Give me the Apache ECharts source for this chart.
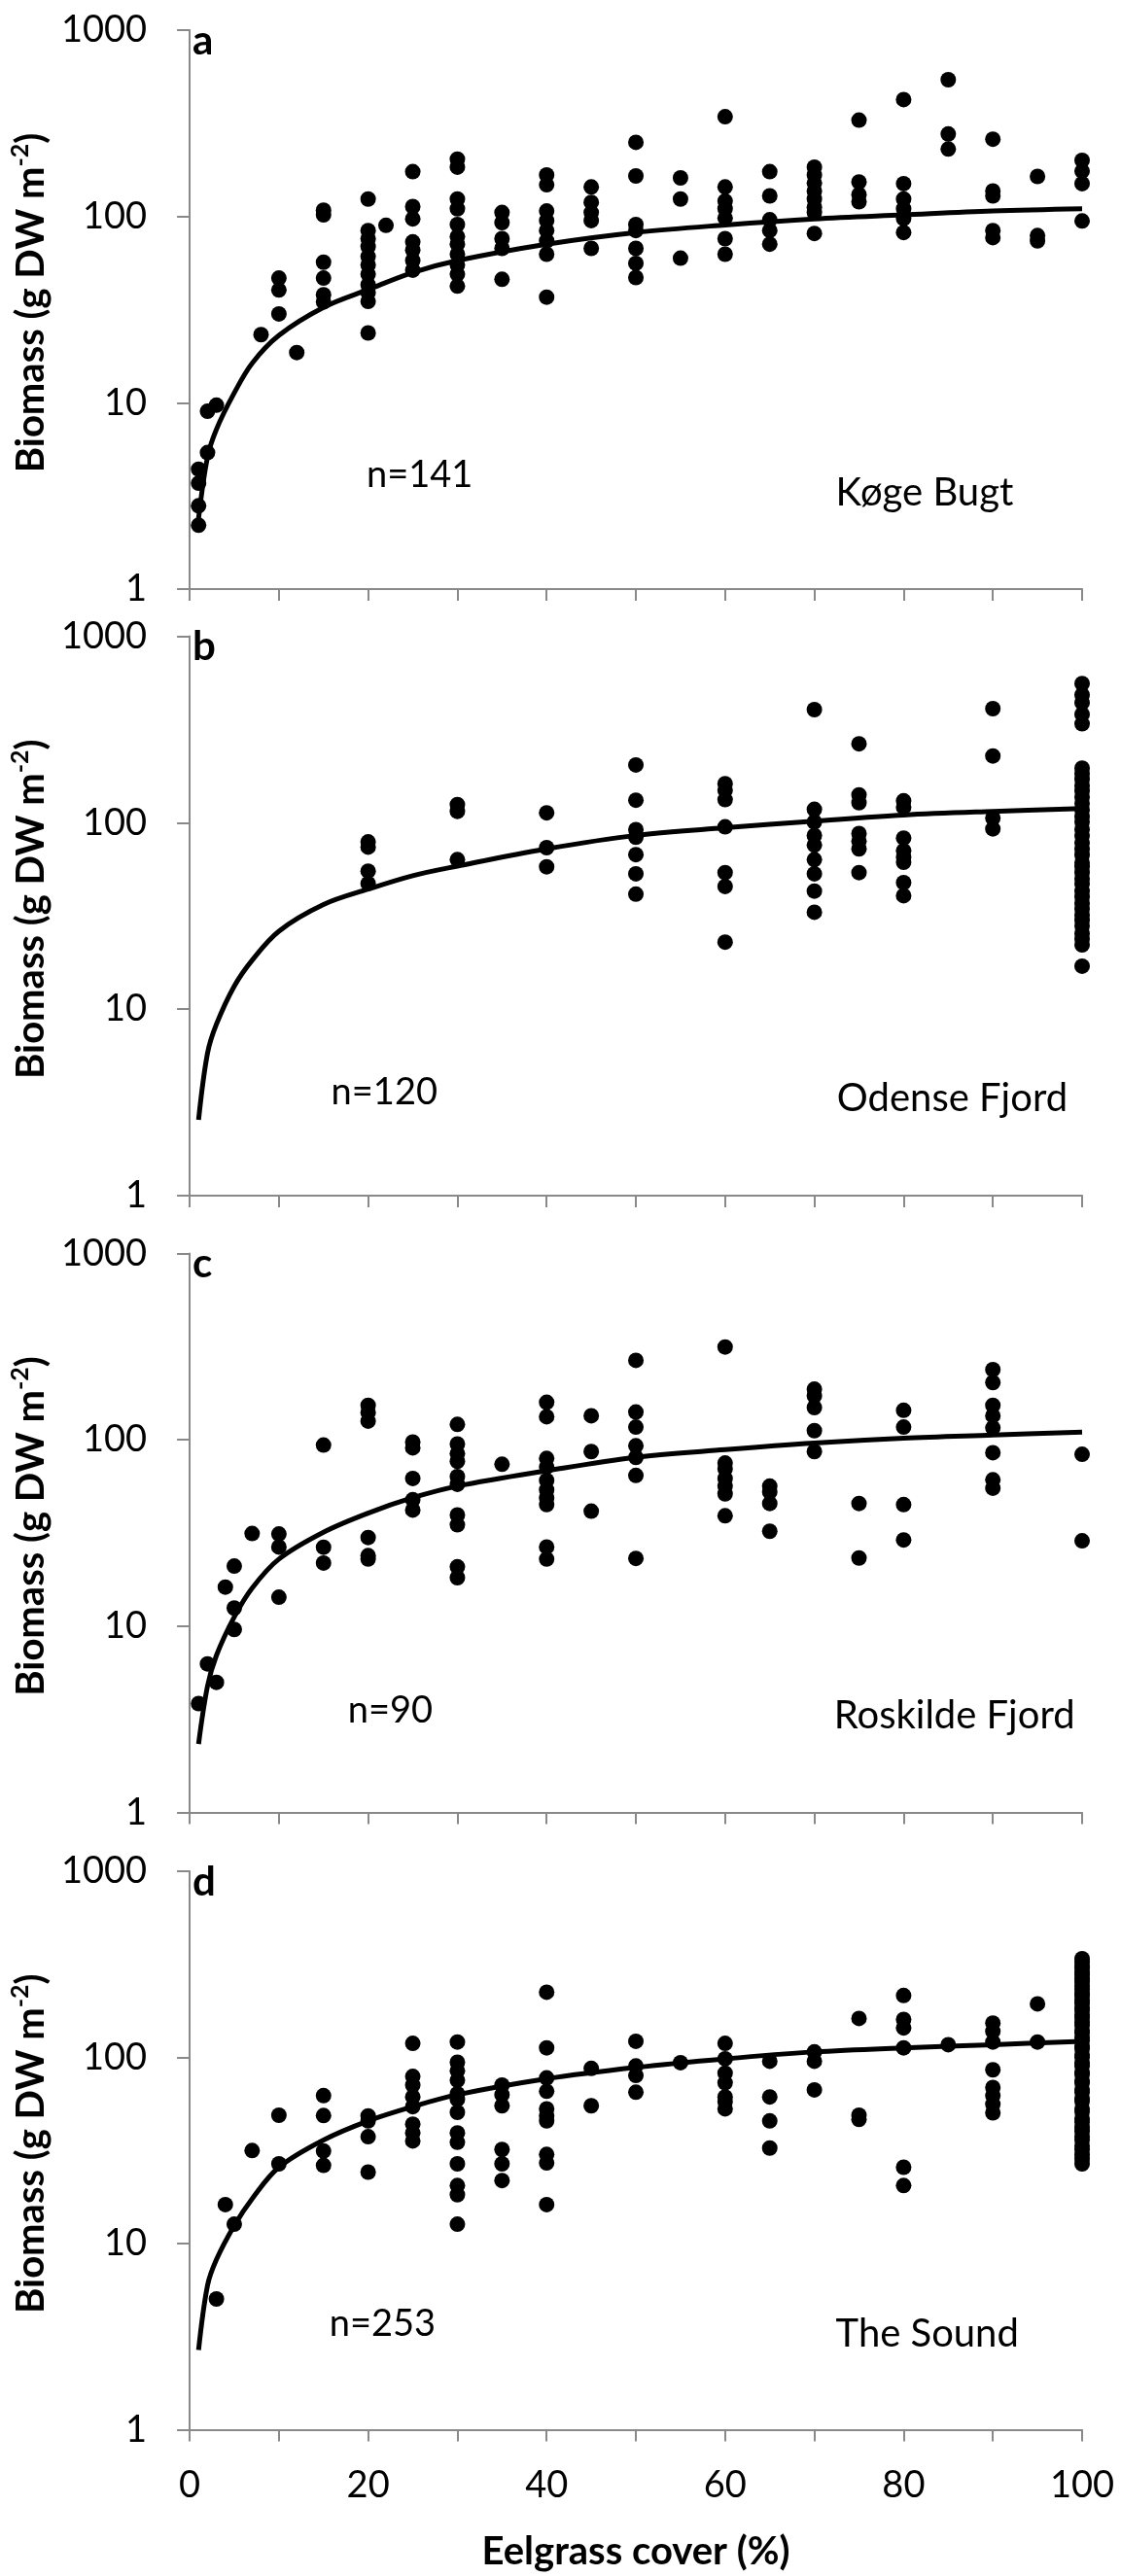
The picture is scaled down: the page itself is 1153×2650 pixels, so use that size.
<!DOCTYPE html>
<html><head><meta charset="utf-8">
<script src="https://cdn.jsdelivr.net/npm/echarts@6/dist/echarts.min.js"></script>
<style>html,body{margin:0;padding:0;background:#fff}#chart{width:1153px;height:2650px}</style>
</head><body><div id="chart"></div>
<script>
// ---------- DATA ----------
const panelLetters = ['a', 'b', 'c', 'd'];
const siteNames = ['Køge Bugt', 'Odense Fjord', 'Roskilde Fjord', 'The Sound'];
const sampleSizes = ['n=141', 'n=120', 'n=90', 'n=253'];
const yTickLabels = ['1', '10', '100', '1000'];
const xTickLabels = ['0', '20', '40', '60', '80', '100'];
const xTitle = 'Eelgrass cover (%)';

// Panel a – Køge Bugt
const coverA = [1, 2, 3, 8, 10, 12, 15, 20, 22, 25, 30, 35, 40, 45, 50, 55, 60, 65, 70, 75, 80, 85, 90, 95, 100];
const biomassA = [
  [4.4, 3.7, 2.8, 2.2], [5.4, 9.0], [9.7], [23.2], [46.7, 40.3, 30.0], [18.6],
  [108, 102, 56.8, 46.7, 38, 34.8],
  [124, 84, 76, 69, 61, 55, 49, 43, 39, 35, 23.7], [89.6],
  [174, 113, 97, 73, 66, 58, 51.5],
  [203, 184, 124, 110, 90.5, 78, 71, 62.7, 55, 49, 42.3],
  [105, 92.7, 76, 67.4, 46],
  [167, 148, 107, 95, 84, 74, 62.7, 36.9],
  [144, 119, 105, 95, 67.4],
  [250, 165, 90.5, 84, 67.4, 56, 47],
  [161, 124, 59.7],
  [343, 144, 121, 110, 98, 76, 62.7],
  [174, 129, 96, 84, 71],
  [184, 167, 151, 137, 124, 112, 105, 81],
  [329, 153, 131, 120],
  [424, 150, 124, 110, 97.5, 82],
  [542, 277, 230],
  [260, 137, 129, 84, 77],
  [164, 79, 74],
  [200, 175, 150, 94.6]
];

// Panel b – Odense Fjord
const coverB = [20, 30, 40, 50, 60, 70, 75, 80, 90, 100];
const biomassB = [
  [78.9, 74, 55, 47.2],
  [125, 115, 63.4],
  [113, 73.5, 58],
  [204, 132, 91.8, 83.5, 67.4, 53.2, 41.4],
  [162, 149, 133, 95, 54, 45.5, 22.9],
  [404, 118, 101, 85.5, 75.9, 63.4, 53.2, 43, 33.1],
  [265, 141, 128, 87.5, 79.6, 72.4, 54],
  [131, 121, 82.7, 70.7, 65.3, 61.3, 47.7, 40.6],
  [409, 228, 106, 92.7],
  [557, 484, 440, 381, 339, 196, 183, 171, 158, 148, 137, 127, 117, 108, 101, 92, 85, 78, 72, 67,
   61, 58, 54, 50, 47, 43, 40, 37, 34.5, 32, 30, 28, 25.5, 23.8, 22.1, 17]
];

// Panel c – Roskilde Fjord
const coverC = [1, 2, 3, 4, 5, 7, 10, 15, 20, 25, 30, 35, 40, 45, 50, 60, 65, 70, 75, 80, 90, 100];
const biomassC = [
  [3.84], [6.27], [4.99], [16.2], [21, 12.5, 9.6], [31.4],
  [31.2, 26.6, 14.3],
  [93.7, 26.5, 21.8],
  [153, 140, 126, 29.9, 23.9, 22.9],
  [97.3, 90.6, 62, 47.7, 42],
  [121, 95, 84.4, 76.7, 63.5, 57.7, 39.5, 35, 20.8, 18.2],
  [73.9],
  [159, 133, 79.4, 71.5, 60.5, 53.8, 48.8, 44.9, 26.6, 22.9],
  [134.6, 86.5, 41.4],
  [267, 141, 117, 92.9, 80.5, 64.4, 23.1],
  [315, 75, 69.8, 62, 56.4, 51.3, 39.1],
  [56.4, 52.5, 45.5, 32.3],
  [187, 172, 149, 112, 86.5],
  [45.5, 23.2],
  [144, 117, 44.9, 29],
  [238, 203, 153, 134.6, 116, 85.3, 61, 55],
  [83.6, 28.7]
];

// Panel d – The Sound
const coverD = [3, 4, 5, 7, 10, 15, 20, 25, 30, 35, 40, 45, 50, 55, 60, 65, 70, 75, 80, 85, 90, 95, 100];
const biomassD = [
  [5.04], [16.2], [12.7], [31.6], [48.9, 26.8],
  [62.3, 48.7, 31.4, 26.3],
  [48.5, 45.6, 37.5, 24.2],
  [119, 79, 71, 61.3, 54.4, 43.8, 39.3, 35.6],
  [121, 94.2, 84.7, 75.3, 63.8, 59.5, 50.7, 39.3, 35, 26.8, 20.5, 18.3, 12.7],
  [71, 63, 55, 32, 26.8, 21.8],
  [224, 112.5, 77.6, 65.8, 52.9, 48.4, 45.6, 30.1, 27.1, 16.2],
  [87.3, 55],
  [122, 89.9, 80, 65],
  [93.7],
  [119, 98.3, 82.3, 73.1, 61.3, 57.8, 52.9],
  [95.4, 61.3, 45.6, 32.6],
  [107, 95.4, 66.9],
  [162, 48.9, 46.4],
  [215, 160, 144, 112.5, 25.7, 20.5],
  [117],
  [153, 138, 121, 85.8, 68.9, 62.3, 56.1, 50.4],
  [194, 121],
  [339, 326, 311, 301, 287, 277, 264, 255, 242, 233, 221, 213, 202, 195, 185, 179, 169, 163, 154, 149,
   140, 135, 127, 123, 115, 111, 103, 100, 93, 90, 83, 81, 75, 73, 67, 65, 60, 58, 53, 51,
   47, 45, 42, 40, 37.5, 36, 33.5, 32, 30, 28.5, 26.8]
];

// Fitted curves
const curveCover = [1, 2, 3, 5, 7, 10, 15, 20, 25, 30, 40, 50, 60, 70, 80, 90, 100];
const curveA = [2.4, 5.1, 7.2, 11.3, 16.3, 23, 32.5, 40.5, 50, 58, 71, 82, 90, 97, 102, 107, 110];
const curveB = [2.55, 5.8, 8.3, 13.3, 18.3, 26.2, 36.4, 44, 52, 58.5, 72.4, 85.5, 94, 102, 110, 115, 119];
const curveC = [2.33, 4.76, 6.96, 11.2, 16, 22.9, 31.9, 40.4, 48.9, 56.4, 68.2, 80.5, 88.5, 96, 102, 106, 110];
const curveD = [2.68, 5.95, 8.2, 12.5, 17.4, 25.7, 36, 45.6, 54.4, 63, 76.7, 88.3, 98.3, 107, 112.5, 117, 122];

// ---------- LAYOUT / STYLE ----------
const GRID_LEFT = 179, GRID_WIDTH = 934;
const panelTop = [31, 654.5, 1289.5, 1925];
const panelHeight = [575, 575.5, 575, 574.5];
const nLabelX = [377, 340.6, 357.8, 338.7];
const nLabelBaseOffset = [470, 481.5, 482.5, 478];
const siteLabelX = [859.6, 860.8, 857.7, 859.6];
const AXIS_GRAY = '#898989';
const FONT = 'Lato, "Open Sans", sans-serif';

const covers = [coverA, coverB, coverC, coverD];
const biomass = [biomassA, biomassB, biomassC, biomassD];
const curves = [curveA, curveB, curveC, curveD];

function pairs(cover, groups) {
  const out = [];
  cover.forEach((c, i) => groups[i].forEach(v => out.push([c, v])));
  return out;
}

const grid = panelTop.map((t, i) => ({ left: GRID_LEFT, width: GRID_WIDTH, top: t, height: panelHeight[i] }));

const xAxis = panelTop.map((t, i) => ({
  type: 'value', gridIndex: i, min: 0, max: 100, interval: 10,
  axisLine: { show: true, onZero: false, lineStyle: { color: AXIS_GRAY, width: 2 } },
  axisTick: { show: true, length: 12, lineStyle: { color: AXIS_GRAY, width: 2 } },
  splitLine: { show: false },
  axisLabel: {
    show: i === 3, color: '#000', fontFamily: FONT, fontSize: 38, margin: 38,
    formatter: v => (v % 20 === 0 ? xTickLabels[v / 20] : '')
  },
  name: i === 3 ? xTitle : '', nameLocation: 'middle', nameGap: 106,
  nameTextStyle: { fontFamily: FONT, fontWeight: 'bold', fontSize: 40, color: '#000' }
}));

const yAxis = panelTop.map((t, i) => ({
  type: 'log', logBase: 10, gridIndex: i, min: 1, max: 1000,
  axisLine: { show: true, onZero: false, lineStyle: { color: AXIS_GRAY, width: 2 } },
  axisTick: { show: true, length: 13, lineStyle: { color: AXIS_GRAY, width: 2 } },
  minorTick: { show: false }, splitLine: { show: false },
  axisLabel: {
    color: '#000', fontFamily: FONT, fontSize: 38, margin: 44,
    formatter: v => yTickLabels[Math.round(Math.log10(v))]
  },
  name: '{b|Biomass (g DW m}{s|-2}{b|)}', nameLocation: 'middle', nameRotate: 90, nameGap: 109,
  nameTextStyle: {
    padding: [0, 0, 0, 14],
    rich: {
      b: { fontFamily: FONT, fontWeight: 'bold', fontSize: 40, lineHeight: 48, color: '#000' },
      s: { fontFamily: FONT, fontWeight: 'bold', fontSize: 25, lineHeight: 26, verticalAlign: 'top', color: '#000' }
    }
  }
}));

const series = [];
panelTop.forEach((t, i) => {
  series.push({
    type: 'scatter', xAxisIndex: i, yAxisIndex: i,
    data: pairs(covers[i], biomass[i]),
    symbol: 'circle', symbolSize: 16, itemStyle: { color: '#000', opacity: 1 }, z: 2
  });
  series.push({
    type: 'line', xAxisIndex: i, yAxisIndex: i,
    data: curveCover.map((c, j) => [c, curves[i][j]]),
    smooth: 0.35, symbol: 'none', showSymbol: false,
    lineStyle: { color: '#000', width: 5 }, z: 3
  });
});

const graphic = [];
panelTop.forEach((t, i) => {
  graphic.push({ type: 'text', x: 198, y: t + 11,
    style: { text: panelLetters[i], fontFamily: FONT, fontWeight: 'bold', fontSize: 42, fill: '#000', align: 'left', verticalAlign: 'middle' } });
  graphic.push({ type: 'text', x: nLabelX[i], y: t + nLabelBaseOffset[i] - 12.5,
    style: { text: sampleSizes[i], fontFamily: FONT, fontSize: 38, fill: '#000', align: 'left', verticalAlign: 'middle' } });
  graphic.push({ type: 'text', x: siteLabelX[i], y: t + 489 - 13,
    style: { text: siteNames[i], fontFamily: FONT, fontSize: 40, fill: '#000', align: 'left', verticalAlign: 'middle' } });
});

const chart = echarts.init(document.getElementById('chart'), null, { renderer: 'canvas' });
chart.setOption({
  animation: false,
  backgroundColor: '#fff',
  grid, xAxis, yAxis, series, graphic
});
</script>
</body></html>
